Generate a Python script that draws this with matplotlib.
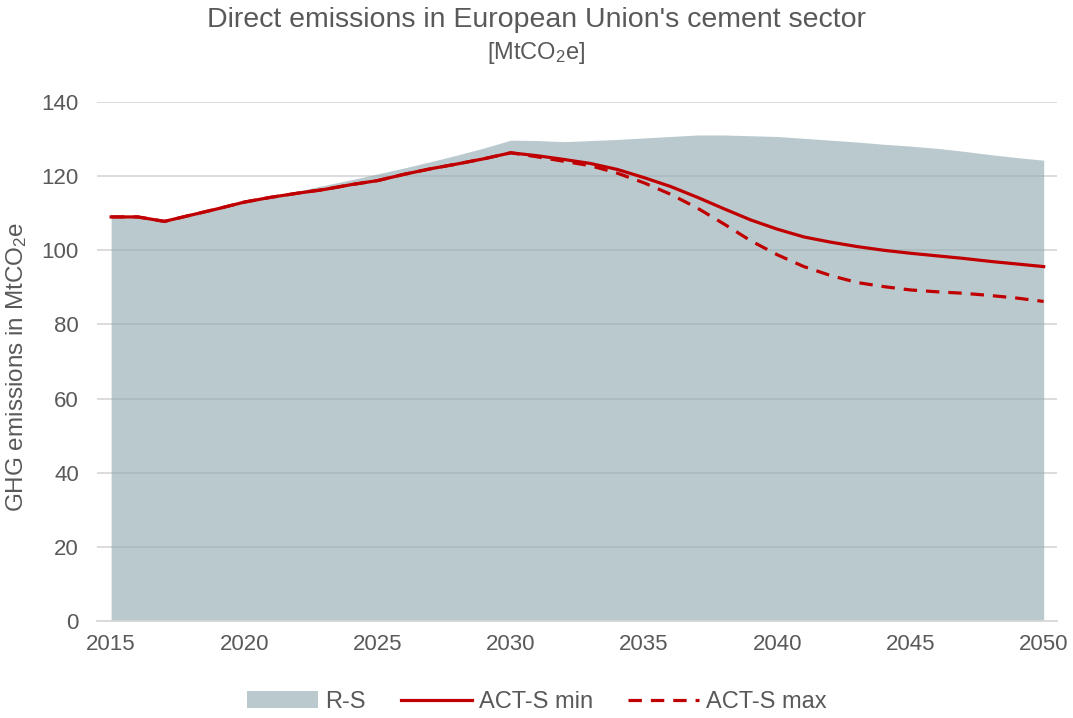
import matplotlib
matplotlib.use("Agg")
import matplotlib.pyplot as plt
from matplotlib.patches import Patch
from matplotlib.lines import Line2D

plt.rcParams['font.family'] = ['Liberation Sans', 'DejaVu Sans']
plt.rcParams['mathtext.fontset'] = 'custom'
plt.rcParams['mathtext.rm'] = 'Liberation Sans'
plt.rcParams['mathtext.it'] = 'Liberation Sans'

years = list(range(2015, 2051))
rs = [109, 109, 107.8, 109.5, 111.2, 113, 114.5, 116, 117.5, 119, 120.6,
      122.2, 123.9, 125.7, 127.6, 129.7, 129.6, 129.3, 129.6, 129.9, 130.3,
      130.7, 131.1, 131.1, 130.9, 130.7, 130.2, 129.7, 129.2, 128.6, 128.1,
      127.5, 126.7, 125.8, 125.0, 124.3]
act_min = [109, 109, 107.8, 109.5, 111.2, 113, 114.3, 115.4, 116.4, 117.7, 118.8,
           120.5, 122, 123.3, 124.7, 126.3, 125.5, 124.5, 123.4, 121.8, 119.6,
           117.2, 114.3, 111.2, 108.2, 105.7, 103.6, 102.2, 101, 100, 99.2,
           98.5, 97.8, 97, 96.3, 95.6]
act_max = [109, 109, 107.8, 109.5, 111.2, 113, 114.3, 115.4, 116.4, 117.7, 118.8,
           120.5, 122, 123.3, 124.7, 126.3, 125.2, 124, 122.8, 120.8, 118.2,
           115.1, 111.4, 107.1, 102.6, 98.8, 95.6, 93.2, 91.3, 90.2, 89.3,
           88.8, 88.4, 87.8, 87.1, 86.2]
yticks = [0, 20, 40, 60, 80, 100, 120, 140]
xticks = [2015, 2020, 2025, 2030, 2035, 2040, 2045, 2050]

text_c = '#595959'
red = '#C00000'
area_c = '#8FA9B1'
lw = 2.3
dash = (0, (4.2, 2.8))

fig = plt.figure(figsize=(10.73, 7.18), dpi=100)
ax = fig.add_axes([97/1073, 1-621/718, (1057-97)/1073, (621-102)/718])

ax.fill_between(years, rs, 0, color=area_c, alpha=0.62, linewidth=0, zorder=2)
ax.plot(years, act_min, color=red, lw=lw, zorder=4)
ax.plot(years, act_max, color=red, lw=lw, ls=dash, zorder=3)

ax.set_xlim(2014.47, 2050.5)
ax.set_ylim(0, 140)
ax.set_yticks(yticks)
ax.set_xticks(xticks)
ax.grid(axis='y', color='#D9D9D9', lw=1.3, zorder=1)
ax.set_axisbelow(True)
for s in ['top', 'right', 'left']:
    ax.spines[s].set_visible(False)
ax.spines['bottom'].set_color('#D9D9D9')
ax.spines['bottom'].set_linewidth(1.3)
ax.tick_params(length=0, labelsize=16, labelcolor=text_c)
ax.tick_params(axis='x', pad=9)
ax.tick_params(axis='y', pad=13)

ax.set_ylabel('GHG emissions in MtCO$_2$e', fontsize=17.5, color=text_c)
ax.yaxis.set_label_coords((29-97)/960, 0.49)

fig.text(0.5, 1-20/718, "Direct emissions in European Union's cement sector",
         ha='center', va='center', fontsize=20.5, color=text_c)
fig.text(0.5, 1-53/718, "[MtCO$_2$e]", ha='center', va='center',
         fontsize=17, color=text_c)

handles = [Patch(facecolor=area_c, alpha=0.62, edgecolor='none'),
           Line2D([], [], color=red, lw=lw),
           Line2D([], [], color=red, lw=lw, ls=dash)]
fig.legend(handles, ['R-S', 'ACT-S min', 'ACT-S max'], loc='center',
           bbox_to_anchor=(537/1073, 1-702/718), ncol=3, frameon=False,
           fontsize=17, labelcolor=text_c, handlelength=3.0,
           handletextpad=0.3, columnspacing=1.5)

fig.savefig('out.png', dpi=100)
